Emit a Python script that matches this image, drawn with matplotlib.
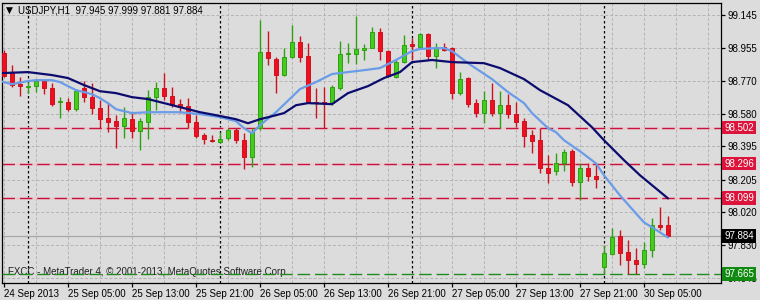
import matplotlib
matplotlib.use('Agg')
import matplotlib.pyplot as plt
import matplotlib.transforms as mtransforms

plt.rcParams['font.family'] = ['Liberation Sans', 'DejaVu Sans']

# USDJPY H1 bars, 24 Sep 2013 21:00 .. 30 Sep 2013 08:00
opens = [98.928, 98.813, 98.750, 98.733, 98.739, 98.768, 98.727, 98.647, 98.647, 98.607,
         98.727, 98.676, 98.613, 98.556, 98.539, 98.510, 98.550, 98.481, 98.533, 98.676,
         98.727, 98.682, 98.636, 98.625, 98.533, 98.459, 98.430, 98.419, 98.441, 98.487,
         98.430, 98.333, 98.499, 98.933, 98.893, 98.802, 98.905, 98.991, 98.910, 98.647,
         98.647, 98.642, 98.727, 98.922, 98.922, 98.945, 98.956, 99.048, 98.939, 98.790,
         98.876, 98.979, 98.962, 99.036, 98.910, 98.962, 98.956, 98.699, 98.785, 98.642,
         98.585, 98.659, 98.585, 98.630, 98.579, 98.539, 98.459, 98.430, 98.270, 98.253,
         98.298, 98.367, 98.190, 98.270, 98.224, 97.704, 97.778, 97.881, 97.790, 97.744,
         97.721, 97.801, 97.944, 97.945]
highs = [98.945, 98.859, 98.790, 98.762, 98.779, 98.773, 98.756, 98.676, 98.670, 98.722,
         98.768, 98.756, 98.659, 98.642, 98.573, 98.619, 98.585, 98.556, 98.716, 98.762,
         98.813, 98.733, 98.665, 98.670, 98.573, 98.470, 98.459, 98.476, 98.499, 98.499,
         98.470, 98.499, 99.116, 99.054, 98.905, 98.956, 99.088, 99.025, 98.985, 98.727,
         98.733, 98.745, 98.996, 98.985, 99.139, 98.979, 99.076, 99.071, 98.945, 98.888,
         99.031, 99.013, 99.042, 99.042, 98.985, 98.985, 98.962, 98.819, 98.790, 98.665,
         98.710, 98.756, 98.710, 98.693, 98.647, 98.556, 98.487, 98.499, 98.344, 98.356,
         98.379, 98.379, 98.298, 98.298, 98.298, 97.830, 97.927, 97.915, 97.858, 97.812,
         97.847, 97.984, 98.047, 97.999]
lows = [98.790, 98.733, 98.682, 98.699, 98.705, 98.693, 98.625, 98.556, 98.596, 98.596,
        98.647, 98.579, 98.499, 98.476, 98.384, 98.441, 98.441, 98.373, 98.436, 98.602,
        98.659, 98.619, 98.585, 98.499, 98.441, 98.407, 98.419, 98.413, 98.430, 98.413,
        98.264, 98.276, 98.487, 98.859, 98.699, 98.796, 98.899, 98.876, 98.642, 98.556,
        98.499, 98.630, 98.716, 98.870, 98.865, 98.888, 98.956, 98.888, 98.790, 98.785,
        98.870, 98.888, 98.951, 98.888, 98.842, 98.939, 98.665, 98.687, 98.619, 98.562,
        98.527, 98.567, 98.499, 98.556, 98.504, 98.390, 98.356, 98.241, 98.184, 98.230,
        98.253, 98.167, 98.087, 98.196, 98.155, 97.669, 97.772, 97.715, 97.669, 97.669,
        97.698, 97.761, 97.915, 97.881]
closes = [98.796, 98.745, 98.739, 98.739, 98.768, 98.727, 98.636, 98.653, 98.607, 98.710,
          98.676, 98.613, 98.550, 98.533, 98.510, 98.556, 98.481, 98.539, 98.676, 98.727,
          98.682, 98.630, 98.619, 98.533, 98.453, 98.436, 98.424, 98.436, 98.487, 98.430,
          98.333, 98.476, 98.933, 98.899, 98.802, 98.905, 98.991, 98.905, 98.647, 98.642,
          98.642, 98.733, 98.922, 98.928, 98.951, 98.956, 99.048, 98.939, 98.796, 98.876,
          98.973, 98.968, 99.036, 98.910, 98.956, 98.945, 98.699, 98.779, 98.636, 98.585,
          98.659, 98.585, 98.630, 98.579, 98.533, 98.453, 98.424, 98.270, 98.241, 98.298,
          98.361, 98.190, 98.270, 98.224, 98.207, 97.784, 97.875, 97.784, 97.744, 97.721,
          97.801, 97.944, 97.933, 97.884]
bars = list(range(len(opens)))

# moving averages (bar index, price)
fast_x = [-0.5, 1, 3, 4, 6, 7, 8, 9, 10, 11, 12, 13, 14, 15, 16, 18, 22, 24.5, 27, 29,
          30, 31, 32, 34, 37, 39, 41, 45, 47, 49, 51, 52, 54, 55, 56, 58, 61, 63, 65, 66,
          68, 69, 70, 72, 74, 75, 77, 79, 80, 81, 82, 83]
fast_y = [98.768, 98.750, 98.768, 98.773, 98.773, 98.762, 98.739, 98.716, 98.705, 98.693,
          98.670, 98.642, 98.607, 98.596, 98.585, 98.590, 98.590, 98.579, 98.562, 98.539,
          98.499, 98.470, 98.516, 98.590, 98.722, 98.762, 98.808, 98.830, 98.842, 98.888,
          98.939, 98.951, 98.956, 98.956, 98.939, 98.870, 98.779, 98.705, 98.642, 98.585,
          98.499, 98.476, 98.430, 98.367, 98.298, 98.230, 98.115, 98.012, 97.961, 97.933,
          97.904, 97.875]
slow_x = [-0.5, 3, 6, 8, 10, 12, 14, 16, 18, 20, 22, 24.5, 26.5, 29, 30.5, 32, 34, 35,
          36.5, 38, 41, 43, 45.5, 47.5, 49.5, 51, 53.5, 56, 60, 62, 65, 67, 70.5, 73.5,
          75, 77.5, 79.5, 83]
slow_y = [98.813, 98.819, 98.802, 98.785, 98.745, 98.710, 98.699, 98.676, 98.665, 98.642,
          98.619, 98.590, 98.573, 98.550, 98.527, 98.550, 98.573, 98.585, 98.630, 98.642,
          98.636, 98.699, 98.739, 98.785, 98.819, 98.876, 98.888, 98.876, 98.870, 98.842,
          98.779, 98.716, 98.630, 98.504, 98.430, 98.316, 98.230, 98.098]

red_levels = [98.502, 98.296, 98.099]
green_level = 97.665
last_price = 97.884

price_ticks = [99.145, 98.955, 98.770, 98.580, 98.395, 98.205, 98.020, 97.830, 97.645]
time_ticks = [0, 8, 16, 24, 32, 40, 48, 56, 64, 72, 80]
time_labels = ['24 Sep 2013', '25 Sep 05:00', '25 Sep 13:00', '25 Sep 21:00',
               '26 Sep 05:00', '26 Sep 13:00', '26 Sep 21:00', '27 Sep 05:00',
               '27 Sep 13:00', '27 Sep 21:00', '30 Sep 05:00']
day_starts = [3, 27, 51, 75]

bg = '#dcdcdc'
fig = plt.figure(figsize=(7.6, 3.0), dpi=100, facecolor=bg)
ax = fig.add_axes([2/760, 17/300, 719/760, 280/300], facecolor=bg)
ax.set_xlim(-0.25, 89.625)
ax.set_ylim(97.615, 99.2135)

# grid
for t in price_ticks:
    ax.axhline(t, color='#b4b4b4', lw=0.7, ls=(0, (3, 2)), zorder=0)
for b in range(0, 90, 4):
    ax.axvline(b, color='#b4b4b4', lw=0.7, ls=(0, (3, 2)), zorder=0)
for d in day_starts:
    ax.axvline(d, color='black', lw=0.9, ls=(0, (2, 2)), zorder=1)

# levels
for lv in red_levels:
    ax.axhline(lv, color='#ecc4cc', lw=1.8, alpha=0.7, zorder=1)
    ax.axhline(lv, color='#c8143c', lw=1.0, ls=(0, (9, 3.5)), zorder=2)
ax.axhline(last_price, color='#a8a8a8', lw=0.9, zorder=1)
ax.text(0.008, green_level + 0.010, 'FXCC - MetaTrader 4, \u00a9 2001-2013, MetaQuotes Software Corp.',
        transform=mtransforms.blended_transform_factory(ax.transAxes, ax.transData),
        fontsize=7, color='#202020', va='center', zorder=2)
ax.axhline(green_level, color='#1e8c1e', lw=1.0, ls=(0, (9, 3.5)), zorder=3)

# candles
up = [c >= o for o, c in zip(opens, closes)]
wick_col = ['#2ea012' if u else '#d0101c' for u in up]
fill_col = ['#44cc1c' if u else '#ec1020' for u in up]
ax.vlines(bars, lows, highs, colors=wick_col, lw=1.0, zorder=4)
body_lo = [min(o, c) for o, c in zip(opens, closes)]
body_h = [max(abs(c - o), 0.001) for o, c in zip(opens, closes)]
ax.bar(bars, body_h, bottom=body_lo, width=0.55, color=fill_col, edgecolor=wick_col,
       lw=0.7, zorder=5)

# moving averages
ax.plot(fast_x, fast_y, color='#6a9ce8', lw=1.6, zorder=6, solid_capstyle='round')
ax.plot(slow_x, slow_y, color='#0c0c6e', lw=1.6, zorder=7, solid_capstyle='round')

# axes
for s in ax.spines.values():
    s.set_color('black')
    s.set_linewidth(0.9)
ax.yaxis.tick_right()
ax.set_yticks(price_ticks)
ax.set_yticklabels([f'{p:.3f}' for p in price_ticks])
ax.set_xticks(time_ticks)
ax.set_xticklabels(time_labels)
for lab in ax.get_xticklabels():
    lab.set_ha('left')
ax.tick_params(axis='both', direction='out', length=3, width=0.9, color='black',
               labelsize=7, labelcolor='black')
ax.tick_params(axis='y', pad=2)
ax.tick_params(axis='x', pad=1.5)

# price boxes on the right scale
tr = mtransforms.blended_transform_factory(ax.transAxes, ax.transData)
boxes = [(red_levels[0], '#dc143c'), (red_levels[1], '#dc143c'), (red_levels[2], '#dc143c'),
         (last_price, 'black'), (green_level, '#108a10')]
for val, col in boxes:
    ax.text(1.0045, val, f'{val:.3f}', transform=tr, fontsize=7, color='white',
            va='center', ha='left', clip_on=False, zorder=10,
            bbox=dict(boxstyle='square,pad=0.18', fc=col, ec='none'))

# header
ax.text(0.006, 0.972, '\u25bc', transform=ax.transAxes, fontsize=6.5, va='center',
        ha='left', family=['DejaVu Sans'])
ax.text(0.022, 0.972, 'USDJPY,H1  97.945 97.999 97.881 97.884', transform=ax.transAxes,
        fontsize=7, va='center', ha='left', color='black')

fig.savefig('out.png', dpi=100, facecolor=bg)
